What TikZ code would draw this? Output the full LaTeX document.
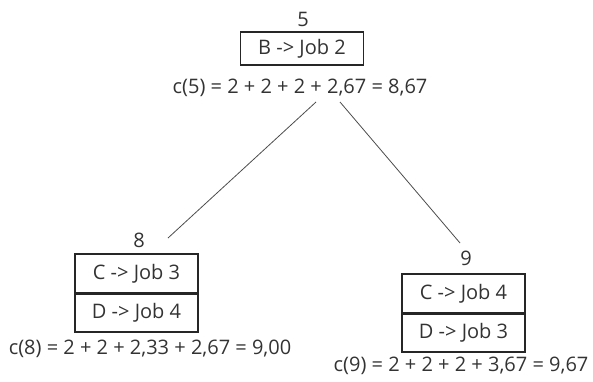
\documentclass[tikz,border=0pt]{standalone}
\usepackage{fontspec}
\setmainfont{Open Sans}
\begin{document}
\begin{tikzpicture}[x=1pt,y=-1pt,
  lbl/.style={inner sep=0pt, font=\fontsize{20}{22}\selectfont, text=black!80},
  jobbox/.style={draw=black!85, line width=1.6pt, minimum width=123pt, minimum height=%
    33pt, inner sep=0pt, font=\fontsize{20}{22}\selectfont, text=black!80},
  jobhalf/.style={jobbox, minimum height=39pt},
  edge/.style={draw=black!70, line width=0.8pt}]
\useasboundingbox (0,0) rectangle (593,381);
% root
\node[lbl] (t5) at (303,19) {5};
\node[jobbox] (n5) at (302,48.5) {B -> Job 2};
\node[lbl] (c5) at (300,88) {c(5) = 2 + 2 + 2 + 2,67 = 8,67};
% node 8
\node[lbl] (t8) at (139,240) {8};
\node[jobhalf] (n8a) at (136.5,273.5) {C -> Job 3};
\node[jobhalf] (n8b) at (136.5,312.5) {D -> Job 4};
\draw[draw=black!85, line width=3pt] (n8a.south west) -- (n8a.south east);
\node[lbl] (c8) at (150,349) {c(8) = 2 + 2 + 2,33 + 2,67 = 9,00};
% node 9
\node[lbl] (t9) at (466,258) {9};
\node[jobhalf] (n9a) at (463.5,293.5) {C -> Job 4};
\node[jobhalf] (n9b) at (463.5,332.5) {D -> Job 3};
\draw[draw=black!85, line width=3pt] (n9a.south west) -- (n9a.south east);
\node[lbl] (c9) at (461,366) {c(9) = 2 + 2 + 2 + 3,67 = 9,67};
% connectors
\coordinate (a1) at (316,102);
\coordinate (a2) at (340,102);
\coordinate (b1) at (168,238);
\coordinate (b2) at (460,243);
\draw[edge] (a1) -- (b1);
\draw[edge] (a2) -- (b2);
\end{tikzpicture}
\end{document}
